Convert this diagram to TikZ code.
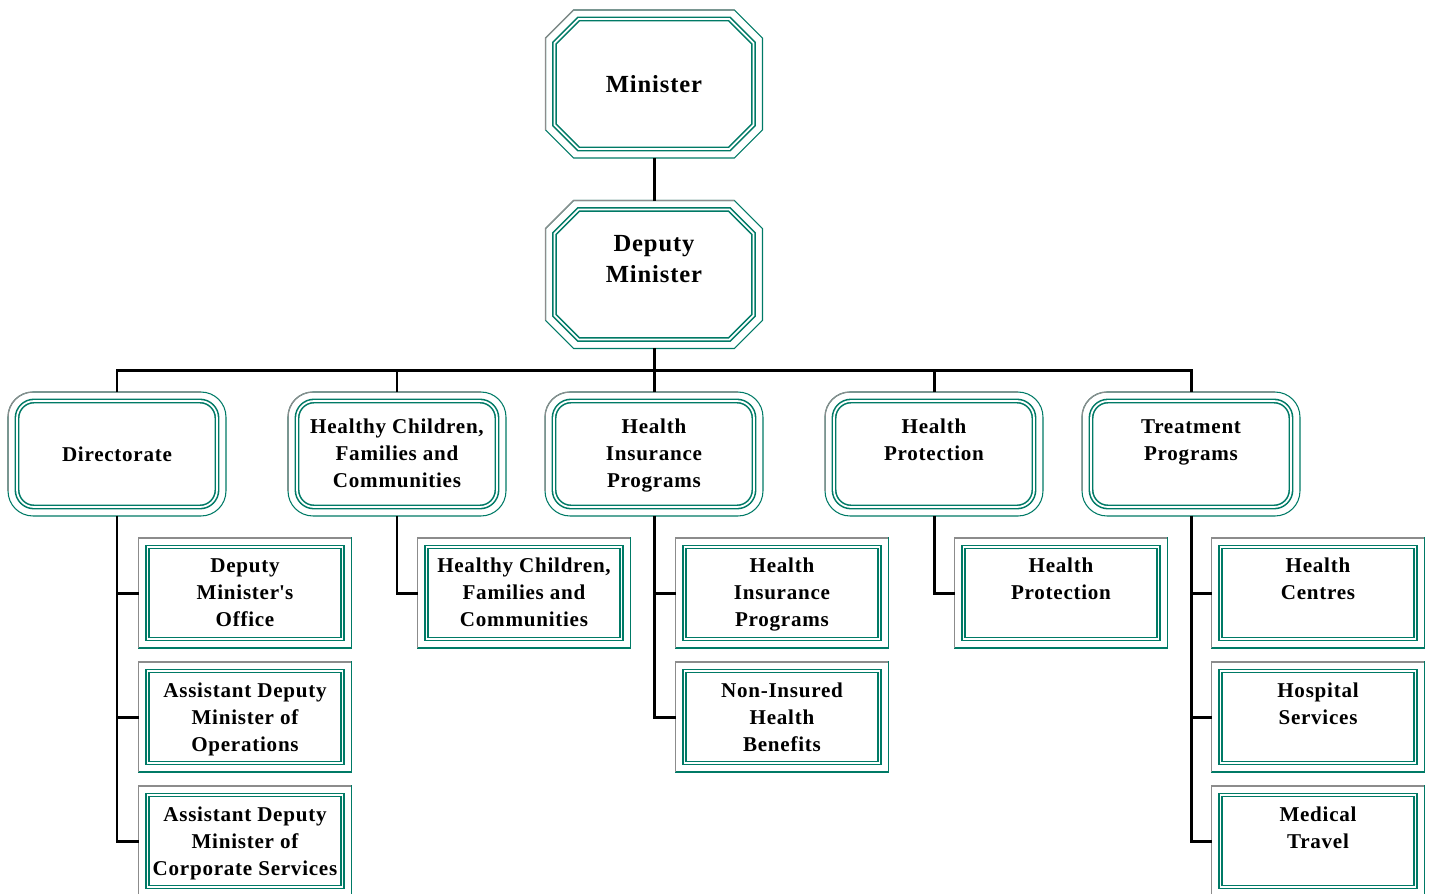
\documentclass[tikz,border=0pt]{standalone}
\usepackage{fontspec}
\setmainfont{Liberation Serif}[LetterSpace=3.5]
\usetikzlibrary{positioning,calc}
\usetikzlibrary{shapes}
\definecolor{orgteal}{RGB}{0,122,102}
\definecolor{orggray}{RGB}{140,140,140}
\tikzset{
  outerline/.style = {draw=orgteal, line width=0.6pt},
  shadeline/.style = {draw=orggray, line width=0.7pt},
  tealline/.style = {draw=orgteal, line width=0.9pt, double=white, double distance=1pt},
  topframe/.style = {rectangle, inner sep=0pt, outer sep=0pt, minimum width=4.34cm, minimum height=2.96cm},
  groupframe/.style = {outerline, rectangle, inner sep=0pt, outer sep=0pt, rounded corners=0.5cm, minimum width=4.36cm, minimum height=2.48cm},
  groupteal/.style = {tealline, rectangle, inner sep=0pt, rounded corners=0.34cm, minimum width=4.0cm, minimum height=2.12cm},
  unitframe/.style = {outerline, rectangle, inner sep=0pt, outer sep=0pt, minimum width=4.26cm, minimum height=2.2cm},
  unitteal/.style = {tealline, rectangle, inner sep=0pt, minimum width=3.9cm, minimum height=1.84cm},
  bigtext/.style = {align=center, inner sep=0pt, font=\bfseries\fontsize{14}{17.6}\selectfont},
  smalltext/.style = {align=center, inner sep=0pt, yshift=-0.07cm, font=\bfseries\fontsize{12}{15.3}\selectfont,
    execute at begin node=\strut, execute at end node=\strut},
  conn/.style = {draw, line width=1.7pt}
}
% octagon round a node: style, node, inset, chamfer (in px)
\newcommand{\chamferpath}[4]{%
  \draw[#1] ($(#2.north west)+(#3+#4,#3)$) -- ($(#2.north east)+(-#3-#4,#3)$)
    -- ($(#2.north east)+(-#3,#3+#4)$) -- ($(#2.south east)+(-#3,-#3-#4)$)
    -- ($(#2.south east)+(-#3-#4,-#3)$) -- ($(#2.south west)+(#3+#4,-#3)$)
    -- ($(#2.south west)+(#3,-#3-#4)$) -- ($(#2.north west)+(#3,#3+#4)$) -- cycle;}
% box macros: name, centre x, centre y, text y, text
\newcommand{\topbox}[5]{%
  \node[topframe] (#1) at (#2,#3) {};
  \chamferpath{outerline}{#1}{0}{28}
  \draw[shadeline] ($(#1.south west)+(0,-28)$) -- ($(#1.north west)+(0,28)$)
    -- ($(#1.north west)+(28,0)$) -- ($(#1.north east)+(-28,0)$);
  \chamferpath{tealline}{#1}{9}{24}
  \node[bigtext] (#1-txt) at (#2,#4) {#5};}
\newcommand{\groupbox}[5]{%
  \node[groupframe] (#1) at (#2,#3) {};
  \draw[shadeline, rounded corners=0.5cm] ($(#1.south west)+(0,-25)$) -- (#1.north west) -- ($(#1.north east)+(-25,0)$);
  \node[groupteal] (#1-in) at (#2,#3) {};
  \node[smalltext] (#1-txt) at (#2,#4) {#5};}
\newcommand{\unitbox}[5]{%
  \node[unitframe] (#1) at (#2,#3) {};
  \draw[shadeline] (#1.south west) -- (#1.north west) -- (#1.north east);
  \node[unitteal] (#1-in) at (#2,#3) {};
  \node[smalltext] (#1-txt) at (#2,#4) {#5};}

\begin{document}
\begin{tikzpicture}[x=0.02cm, y=-0.02cm]
    \useasboundingbox (0,0) rectangle (1434,893);
    % top
    \topbox{min}{654}{84}{84}{Minister}
    \topbox{dm}{654}{274.5}{259}{Deputy\\Minister}
    % divisions
    \groupbox{dir}{117}{454}{453}{Directorate}
    \groupbox{hcfc}{397}{454}{454}{Healthy Children,\\Families and\\Communities}
    \groupbox{hip}{654}{454}{454}{Health\\Insurance\\Programs}
    \groupbox{hp}{934}{454}{440.5}{Health\\Protection}
    \groupbox{tp}{1191}{454}{440.5}{Treatment\\Programs}
    % units
    \unitbox{dmo}{245}{593}{593}{Deputy\\Minister\textquotesingle s\\Office}
    \unitbox{adops}{245}{717}{717.5}{Assistant Deputy\\Minister of\\Operations}
    \unitbox{adcs}{245}{841}{842}{Assistant Deputy\\Minister of\\Corporate Services}
    \unitbox{hcfcu}{524}{593}{593}{Healthy Children,\\Families and\\Communities}
    \unitbox{hipu}{782}{593}{593}{Health\\Insurance\\Programs}
    \unitbox{nihb}{782}{717}{717.5}{Non-Insured\\Health\\Benefits}
    \unitbox{hpu}{1061}{593}{579.5}{Health\\Protection}
    \unitbox{hc}{1318}{593}{579.5}{Health\\Centres}
    \unitbox{hs}{1318}{717}{704}{Hospital\\Services}
    \unitbox{mt}{1318}{841}{828.5}{Medical\\Travel}

    % edges
    \coordinate (bus) at (654,370);
    \path [conn] (min) -- (dm);
    \path [conn] (dm.south) -- (bus);
    \path [conn] (dir.north) |- (bus) -| (tp.north);
    \path [conn] (hcfc.north) -- (hcfc.north |- bus);
    \path [conn] (hip.north) -- (hip.north |- bus);
    \path [conn] (hp.north) -- (hp.north |- bus);
    \path [conn] (dir.south) |- (dmo.west);
    \path [conn] (dir.south) |- (adops.west);
    \path [conn] (dir.south) |- (adcs.west);
    \path [conn] (hcfc.south) |- (hcfcu.west);
    \path [conn] (hip.south) |- (hipu.west);
    \path [conn] (hip.south) |- (nihb.west);
    \path [conn] (hp.south) |- (hpu.west);
    \path [conn] (tp.south) |- (hc.west);
    \path [conn] (tp.south) |- (hs.west);
    \path [conn] (tp.south) |- (mt.west);
\end{tikzpicture}
\end{document}
